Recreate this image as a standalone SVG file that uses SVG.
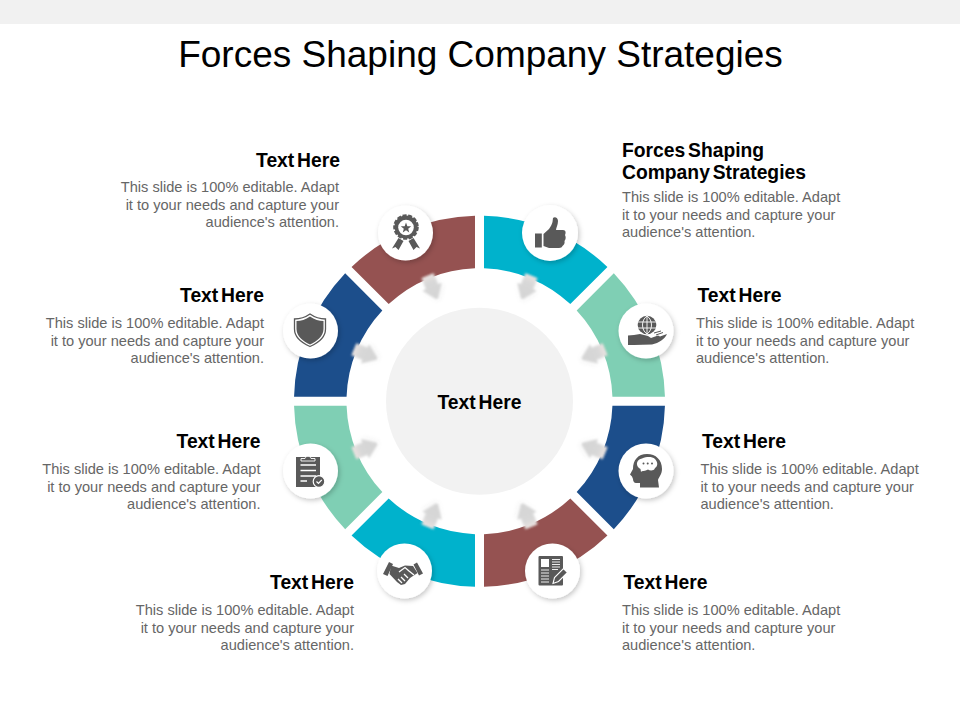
<svg xmlns="http://www.w3.org/2000/svg" xmlns:xlink="http://www.w3.org/1999/xlink" width="960" height="720" viewBox="0 0 960 720">
<style>
text{font-family:"Liberation Sans",Arial,sans-serif}
.t{font-size:37px;fill:#000}
.h{font-size:19.3px;font-weight:bold;fill:#000;word-spacing:-2.5px}
.b{font-size:14.6px;fill:#666}
.e{text-anchor:end}
.k{fill:#595959}
.w{fill:#fff}
.l{stroke:#fff;stroke-width:1.3;fill:none}
.c{fill:#fff;filter:url(#sh)}
</style>
<defs>
<filter id="sh" x="-30%" y="-30%" width="170%" height="170%"><feDropShadow dx="1.5" dy="2" stdDeviation="2.5" flood-color="#000" flood-opacity=".22"/></filter>
<filter id="ab" x="-40%" y="-40%" width="180%" height="180%"><feGaussianBlur stdDeviation=".8"/><feDropShadow dx="1" dy="1.5" stdDeviation="2" flood-color="#000" flood-opacity=".08"/></filter>
<linearGradient id="ag" x1="0" y1="0" x2="0" y2="1"><stop offset="0" stop-color="#EBE3E1"/><stop offset=".3" stop-color="#D8D8D8"/><stop offset="1" stop-color="#D4D4D4"/></linearGradient>
<path id="seg" d="M-4.5,-185.45A185.5,185.5 0 0 0 -127.95,-134.31L-90.81,-97.17A133,133 0 0 1 -4.5,-132.92Z"/>
<path id="arr" d="M-6.5,-136L6.5,-136L6.5,-124L10.5,-124L1,-111L-1,-111L-10.5,-124L-6.5,-124Z" fill="url(#ag)" filter="url(#ab)"/>
</defs>
<rect width="960" height="720" fill="#fff"/>
<rect width="960" height="24" fill="#F1F1F1"/>
<text class="t" x="480.5" y="66.5" text-anchor="middle">Forces Shaping Company Strategies</text>

<g id="center">
<circle cx="479.5" cy="401.25" r="93.5" fill="#F2F2F2"/>
<text class="h" x="479.5" y="409" text-anchor="middle">Text Here</text>
</g>

<g id="node-award">
<use href="#seg" transform="translate(479.5 401.25)" fill="#955251"/>
<circle class="c" cx="405.5" cy="233" r="27.5"/>
<circle class="k" cx="406" cy="227" r="11.5"/>
<circle cx="406" cy="227" r="11.5" fill="none" stroke="#595959" stroke-width="2.6" stroke-dasharray="4 1.6"/>
<circle class="w" cx="406" cy="227.5" r="7.8"/>
<path class="k" d="M406,222.5L407.35,226.14L411.23,226.3L408.19,228.71L409.23,232.45L406,230.3L402.77,232.45L403.81,228.71L400.77,226.3L404.65,226.14Z"/>
<path class="k" d="M398.5,238L403.5,241L398.5,250L395.5,247L392,248.5ZM413.5,238L408.5,241L413.5,250L416.5,247L420,248.5Z"/>
<text class="h e" x="340" y="166.5">Text Here</text>
<text class="b e" x="339" y="192">This slide is 100% editable. Adapt</text>
<text class="b e" x="339" y="209.5">it to your needs and capture your</text>
<text class="b e" x="339" y="227">audience's attention.</text>
</g>

<g id="node-thumb">
<use href="#seg" transform="translate(479.5 401.25) rotate(45)" fill="#00B2CC"/>
<circle class="c" cx="550" cy="233" r="28"/>
<rect class="k" x="535" y="233.5" width="6.8" height="14"/>
<path class="k" d="M543.5,234L549,229C551,226 552,224 552.5,222L553,218C555,216 558,218 558,221C558,225 556,228 556,230L563,230C566,230 566,233 565,235C566,237 566,239 564.5,241C565,243 564,245 562.5,246C562,247 561,248 559,248L549,248L543.5,246Z"/>
<text class="h" x="622" y="156.5">Forces Shaping</text>
<text class="h" x="622" y="179">Company Strategies</text>
<text class="b" x="622" y="202">This slide is 100% editable. Adapt</text>
<text class="b" x="622" y="219.5">it to your needs and capture your</text>
<text class="b" x="622" y="237">audience's attention.</text>
</g>

<g id="node-globe">
<use href="#seg" transform="translate(479.5 401.25) rotate(90)" fill="#7FCFB4"/>
<circle class="c" cx="646" cy="331" r="27.5"/>
<circle class="k" cx="647" cy="325" r="9.3"/>
<path d="M638,322H656M638,328H656M647,316V334M647,316C641,320 641,330 647,334M647,316C653,320 653,330 647,334" stroke="#fff" stroke-width=".9" fill="none"/>
<path class="k" d="M628,335.5L634,335L640,334L648,336L651,338L658,335.5L660,336.5L667,334C665,339 659,343 652,344.5L634,345L628,345Z"/>
<path d="M654,333L661,331M656,335L663,332.5" stroke="#595959" stroke-width="1" fill="none"/>
<text class="h" x="697.5" y="302">Text Here</text>
<text class="b" x="696" y="328">This slide is 100% editable. Adapt</text>
<text class="b" x="696" y="345.5">it to your needs and capture your</text>
<text class="b" x="696" y="363">audience's attention.</text>
</g>

<g id="node-head">
<use href="#seg" transform="translate(479.5 401.25) rotate(135)" fill="#1C4E8B"/>
<circle class="c" cx="646" cy="471" r="27.5"/>
<path class="k" d="M647,454C656,454 662,460 662,469C662,474 659,477 658,480L659,487.5L640,487.5L640,483L636,483C634,483 633,481 633,479L632,476.5L630,474.5L633,469C633,460 638,454 647,454Z"/>
<path class="w" d="M642,458.5C647,456.5 652,456.5 655,459C658,462 658,466 655,468C654,471 650,471 648,469.5C645,471.5 642,470.5 641,472L640.5,469C636,467 635,460 642,458.5Z"/>
<circle class="k" cx="643.5" cy="463.5" r="1"/><circle class="k" cx="647.7" cy="463.5" r="1"/><circle class="k" cx="652" cy="463.5" r="1"/>
<text class="h" x="702" y="448">Text Here</text>
<text class="b" x="700.5" y="474">This slide is 100% editable. Adapt</text>
<text class="b" x="700.5" y="491.5">it to your needs and capture your</text>
<text class="b" x="700.5" y="509">audience's attention.</text>
</g>

<g id="node-news">
<use href="#seg" transform="translate(479.5 401.25) rotate(180)" fill="#955251"/>
<circle class="c" cx="552.5" cy="571" r="27.5"/>
<rect class="k" x="538.5" y="556" width="24.5" height="29.5" rx="1"/>
<rect class="w" x="541" y="559" width="8" height="8"/>
<path d="M552,559.5H560M552,562H560M552,564.5H560M552,567H560M552,569.5H558M541,570H549M541,573H549M541,576H549M541,579H549M541,582H549" stroke="#fff" stroke-width=".9" fill="none"/>
<path class="k" stroke="#fff" stroke-width="1.1" d="M553,583.5L554.5,577.5L563.5,568.5L567.5,572.5L558.5,581.5Z"/>
<text class="h" x="623.5" y="589">Text Here</text>
<text class="b" x="622" y="615">This slide is 100% editable. Adapt</text>
<text class="b" x="622" y="632.5">it to your needs and capture your</text>
<text class="b" x="622" y="650">audience's attention.</text>
</g>

<g id="node-handshake">
<use href="#seg" transform="translate(479.5 401.25) rotate(225)" fill="#00B2CC"/>
<circle class="c" cx="404.5" cy="571" r="27.5"/>
<path class="k" d="M383,574L389,562L393,564L387.5,576ZM423,573.5L417,562.5L413.5,564.5L419,575.5Z"/>
<path class="k" d="M391,565.5L399,568L405,565.5L413,566L417.5,573L410,578L405,584L401,585L397,582L389.5,574Z"/>
<path class="l" d="M399,572L405,567.5L409,571L414,575M401,577L405,581M398,579L402,583M404,574L408,578"/>
<text class="h e" x="354" y="589">Text Here</text>
<text class="b e" x="354" y="615">This slide is 100% editable. Adapt</text>
<text class="b e" x="354" y="632.5">it to your needs and capture your</text>
<text class="b e" x="354" y="650">audience's attention.</text>
</g>

<g id="node-clipboard">
<use href="#seg" transform="translate(479.5 401.25) rotate(270)" fill="#7FCFB4"/>
<circle class="c" cx="310.5" cy="471" r="27.5"/>
<rect class="k" x="296" y="457" width="24" height="30"/>
<path class="k" stroke="#fff" stroke-width=".9" d="M301,461V458.5H305C305.5,455.5 310.5,455.5 311,458.5H315V461Z"/>
<path d="M300.5,465H316M300.5,470.5H316M300.5,476H316M300.5,481H307" stroke="#fff" stroke-width="1.4" fill="none"/>
<circle class="k" stroke="#fff" stroke-width="1.2" cx="319" cy="481.5" r="5.8"/>
<path d="M316.5,481.5L318.5,483.5L321.8,479.8" stroke="#fff" stroke-width="1.2" fill="none"/>
<text class="h e" x="260.5" y="448">Text Here</text>
<text class="b e" x="260.5" y="474">This slide is 100% editable. Adapt</text>
<text class="b e" x="260.5" y="491.5">it to your needs and capture your</text>
<text class="b e" x="260.5" y="509">audience's attention.</text>
</g>

<g id="node-shield">
<use href="#seg" transform="translate(479.5 401.25) rotate(315)" fill="#1C4E8B"/>
<circle class="c" cx="310.5" cy="331" r="27.5"/>
<path fill="none" stroke="#595959" stroke-width="1.3" d="M310,314C315,317.5 320,319 325.5,319L325.5,329C325.5,337 318,343 310,346.5C302,343 294.5,337 294.5,329L294.5,319C300,319 305,317.5 310,314Z"/>
<path class="k" d="M310,316.5C314.5,319.5 319,321 323.5,321L323.5,329C323.5,336 317,341.5 310,344.5C303,341.5 296.5,336 296.5,329L296.5,321C301,321 305.5,319.5 310,316.5Z"/>
<text class="h e" x="264" y="302">Text Here</text>
<text class="b e" x="264" y="328">This slide is 100% editable. Adapt</text>
<text class="b e" x="264" y="345.5">it to your needs and capture your</text>
<text class="b e" x="264" y="363">audience's attention.</text>
</g>

<g id="connectors">
<use href="#arr" transform="translate(479.5 401.25) rotate(-22.5)"/>
<use href="#arr" transform="translate(479.5 401.25) rotate(22.5)"/>
<use href="#arr" transform="translate(479.5 401.25) rotate(67.5)"/>
<use href="#arr" transform="translate(479.5 401.25) rotate(112.5)"/>
<use href="#arr" transform="translate(479.5 401.25) rotate(157.5)"/>
<use href="#arr" transform="translate(479.5 401.25) rotate(202.5)"/>
<use href="#arr" transform="translate(479.5 401.25) rotate(247.5)"/>
<use href="#arr" transform="translate(479.5 401.25) rotate(292.5)"/>
</g>
</svg>
